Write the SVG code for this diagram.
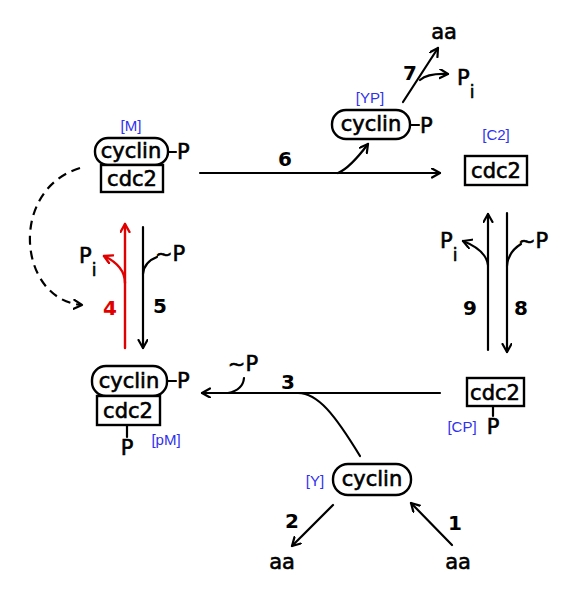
<svg xmlns="http://www.w3.org/2000/svg" width="574" height="600" viewBox="0 0 574 600">
<defs>
<marker id="ah" markerWidth="12" markerHeight="12" refX="9" refY="5" orient="auto" markerUnits="userSpaceOnUse">
<path d="M1,0.5 L9,5 L1,9.5" fill="none" stroke="#000" stroke-width="2.2" stroke-linecap="round" stroke-linejoin="round"/>
</marker>
<marker id="ahr" markerWidth="12" markerHeight="12" refX="9" refY="5" orient="auto" markerUnits="userSpaceOnUse">
<path d="M1,0.5 L9,5 L1,9.5" fill="none" stroke="#e00000" stroke-width="2.4" stroke-linecap="round" stroke-linejoin="round"/>
</marker>
</defs>
<style>
.bg{fill:#fff}
.pill,.box{fill:#fff;stroke:#000;stroke-width:2.4}
.t{font-family:"DejaVu Sans","Liberation Sans",sans-serif;font-size:21px;fill:#000;stroke:#000;stroke-width:0.6}
.n{font-family:"DejaVu Sans","Liberation Sans",sans-serif;font-size:20px;font-weight:bold;fill:#000}
.red{fill:#e00000}
.lbl{font-family:"Liberation Sans",Arial,sans-serif;font-size:15px;fill:#3030f0}
.ln{fill:none;stroke:#000;stroke-width:2.2;stroke-linecap:round}
.lr{fill:none;stroke:#e00000;stroke-width:2.4;stroke-linecap:round}
.dash{fill:none;stroke:#000;stroke-width:2.2;stroke-dasharray:9 6}
.mid{text-anchor:middle}
</style>
<rect class="bg" x="0" y="0" width="574" height="600"/>

<g id="connectors">
<!-- 6 -->
<line class="ln" x1="200" y1="173" x2="440" y2="173" marker-end="url(#ah)"/>
<path class="ln" d="M338,173 Q350,168 368,144" marker-end="url(#ah)"/>
<!-- 7 -->
<line class="ln" x1="403" y1="102" x2="438" y2="48" marker-end="url(#ah)"/>
<path class="ln" d="M420,80 Q428,73 448,74" marker-end="url(#ah)"/>
<!-- 9 up -->
<line class="ln" x1="488" y1="350" x2="488" y2="214" marker-end="url(#ah)"/>
<path class="ln" d="M488,265 Q486,250 463,241" marker-end="url(#ah)"/>
<!-- 8 down -->
<line class="ln" x1="507" y1="213" x2="507" y2="352" marker-end="url(#ah)"/>
<path class="ln" d="M507,266 Q508,252 521,244"/>
<!-- 3 -->
<line class="ln" x1="440" y1="393" x2="202" y2="393" marker-end="url(#ah)"/>
<path class="ln" d="M228,393 Q243,390 244,378"/>
<path class="ln" d="M298,393 C318,393 335,415 360,456"/>
<!-- 2 and 1 -->
<line class="ln" x1="333" y1="505" x2="292" y2="546" marker-end="url(#ah)"/>
<line class="ln" x1="452" y1="545" x2="411" y2="503" marker-end="url(#ah)"/>
<!-- 4 red -->
<line class="lr" x1="125" y1="348" x2="125" y2="224" marker-end="url(#ahr)"/>
<path class="lr" d="M125,283 Q125,266 104,256" marker-end="url(#ahr)"/>
<!-- 5 -->
<line class="ln" x1="143" y1="227" x2="143" y2="348" marker-end="url(#ah)"/>
<path class="ln" d="M143,274 Q144,262 157,257"/>
<!-- dashed -->
<path class="dash" d="M80,168 C8,190 18,300 82,305" marker-end="url(#ah)"/>
</g>

<g id="labels">
<text class="n mid" x="285" y="166">6</text>
<text class="n mid" x="410" y="80">7</text>
<text class="n mid" x="160" y="313">5</text>
<text class="n mid red" x="110" y="315">4</text>
<text class="n mid" x="470" y="315">9</text>
<text class="n mid" x="521" y="315">8</text>
<text class="n mid" x="288" y="389">3</text>
<text class="n mid" x="292" y="528">2</text>
<text class="n mid" x="455" y="530">1</text>
<text class="t mid" x="444" y="39">aa</text>
<text class="t mid" x="282" y="569">aa</text>
<text class="t mid" x="458" y="569">aa</text>
<text class="t" x="457" y="85">P<tspan font-size="17" dy="13">i</tspan></text>
<text class="t" x="79" y="263">P<tspan font-size="17" dy="13">i</tspan></text>
<text class="t" x="440" y="248">P<tspan font-size="17" dy="13">i</tspan></text>
<text class="t" x="155" y="261">~P</text>
<text class="t" x="518" y="248">~P</text>
<text class="t mid" x="243" y="371">~P</text>
</g>

<g id="node-M">
<text class="lbl mid" x="131" y="131">[M]</text>
<rect class="pill" x="95" y="138" width="73" height="27" rx="13"/>
<text class="t mid" x="131" y="158">cyclin</text>
<line class="ln" x1="168" y1="152" x2="176" y2="152"/>
<text class="t" x="177" y="159">P</text>
<rect class="box" x="101" y="165" width="62" height="27"/>
<text class="t mid" x="132" y="186">cdc2</text>
</g>

<g id="node-YP">
<text class="lbl mid" x="370" y="103">[YP]</text>
<rect class="pill" x="332" y="110" width="78" height="29" rx="14"/>
<text class="t mid" x="371" y="131">cyclin</text>
<line class="ln" x1="410" y1="125" x2="419" y2="125"/>
<text class="t" x="420" y="133">P</text>
</g>

<g id="node-C2">
<text class="lbl mid" x="496" y="140">[C2]</text>
<rect class="box" x="465" y="156" width="62" height="29"/>
<text class="t mid" x="496" y="178">cdc2</text>
</g>

<g id="node-CP">
<rect class="box" x="467" y="378" width="57" height="28"/>
<text class="t mid" x="495" y="400">cdc2</text>
<line class="ln" x1="493" y1="406" x2="493" y2="416"/>
<text class="t mid" x="493" y="434">P</text>
<text class="lbl mid" x="462" y="432">[CP]</text>
</g>

<g id="node-pM">
<rect class="pill" x="92" y="366" width="75" height="30" rx="14"/>
<text class="t mid" x="129" y="388">cyclin</text>
<line class="ln" x1="167" y1="381" x2="176" y2="381"/>
<text class="t" x="177" y="388">P</text>
<rect class="box" x="97" y="396" width="63" height="29"/>
<text class="t mid" x="128" y="418">cdc2</text>
<line class="ln" x1="127" y1="425" x2="127" y2="437"/>
<text class="t mid" x="127" y="455">P</text>
<text class="lbl mid" x="166" y="445">[pM]</text>
</g>

<g id="node-Y">
<text class="lbl mid" x="315" y="486">[Y]</text>
<rect class="pill" x="333" y="464" width="78" height="31" rx="15"/>
<text class="t mid" x="372" y="486">cyclin</text>
</g>
</svg>
